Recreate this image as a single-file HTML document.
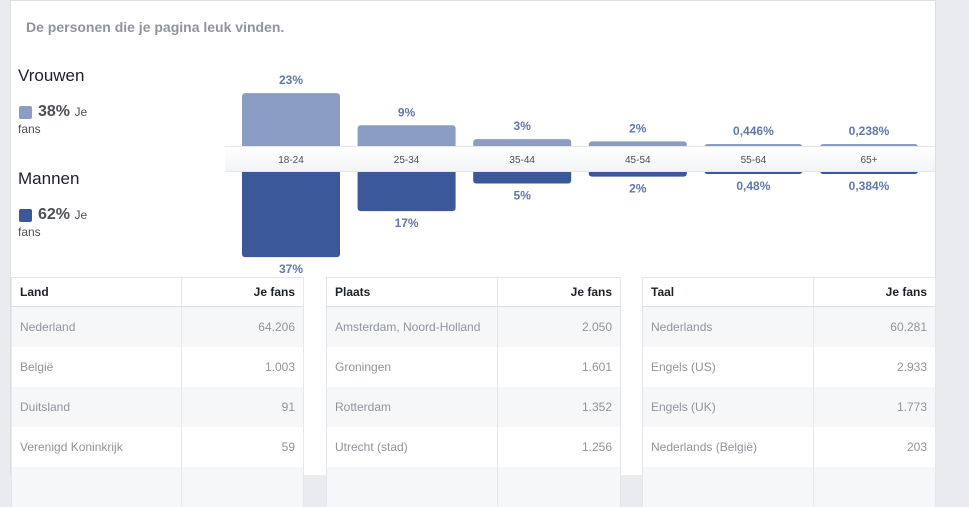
<!DOCTYPE html>
<html><head><meta charset="utf-8">
<style>
*{margin:0;padding:0;box-sizing:border-box}
body{width:969px;height:475px;overflow:hidden;background:#e9ebee;font-family:"Liberation Sans",Arial,sans-serif;position:relative}
#card{position:absolute;left:10px;top:0;width:926px;height:475px;background:#fff;border-left:1px solid #dddfe2;border-right:1px solid #dddfe2;border-top:1px solid #dddfe2}
.abs{position:absolute}
#title{left:26px;top:19px;font-size:14px;font-weight:bold;color:#90949c}
.gl{left:18px;font-size:17px;color:#1d2129}
.sw{width:13px;height:13px;border-radius:2px;left:19px}
.pct{left:38px;font-size:16px;font-weight:bold;color:#4b4f56}
.pct span{font-size:12px;font-weight:normal;color:#4b4f56}
.fans{left:18px;font-size:12px;color:#4b4f56}
#band{left:225px;top:146px;width:710px;height:26px;background:linear-gradient(#fff,#f3f4f6);border-top:1px solid #e5e6e9;border-bottom:1px solid #e5e6e9}
.tbl{position:absolute;top:277px;border-collapse:collapse;font-size:12px}
.tbl td,.tbl th{height:40px;padding:0 8px;border-left:1px solid #e5e6e9;border-right:1px solid #e5e6e9}
.tbl th{height:29px;font-weight:bold;color:#1d2129;text-align:left;border-top:1px solid #e5e6e9;border-bottom:1px solid #dddfe2;background:#fff}
.tbl td{color:#90949c}
.tbl .r{text-align:right}
.tbl tr.g td{background:#f6f7f9}
</style></head><body>
<div id="card"></div>
<div class="abs" id="title">De personen die je pagina leuk vinden.</div>
<div class="abs gl" style="top:66px">Vrouwen</div>
<div class="abs sw" style="top:106px;background:#8b9dc3"></div>
<div class="abs pct" style="top:103px">38% <span>Je</span></div>
<div class="abs fans" style="top:122px">fans</div>
<div class="abs gl" style="top:169px">Mannen</div>
<div class="abs sw" style="top:209px;background:#3b5998"></div>
<div class="abs pct" style="top:206px">62% <span>Je</span></div>
<div class="abs fans" style="top:225px">fans</div>
<svg class="abs" style="left:0;top:0" width="969" height="280" id="chart"></svg>
<div class="abs" id="band"></div>
<svg class="abs" style="left:0;top:0" width="969" height="280" id="labels"></svg>

<table class="tbl" style="left:11px;width:293px">
<tr><th style="width:170px">Land</th><th class="r" style="text-align:right">Je fans</th></tr>
<tr class="g"><td>Nederland</td><td class="r">64.206</td></tr>
<tr><td>België</td><td class="r">1.003</td></tr>
<tr class="g"><td>Duitsland</td><td class="r">91</td></tr>
<tr><td>Verenigd Koninkrijk</td><td class="r">59</td></tr>
<tr class="g"><td></td><td></td></tr>
</table>
<table class="tbl" style="left:326px;width:295px">
<tr><th style="width:171px">Plaats</th><th style="text-align:right">Je fans</th></tr>
<tr class="g"><td>Amsterdam, Noord-Holland</td><td class="r">2.050</td></tr>
<tr><td>Groningen</td><td class="r">1.601</td></tr>
<tr class="g"><td>Rotterdam</td><td class="r">1.352</td></tr>
<tr><td>Utrecht (stad)</td><td class="r">1.256</td></tr>
<tr class="g"><td></td><td></td></tr>
</table>
<table class="tbl" style="left:642px;width:294px">
<tr><th style="width:171px">Taal</th><th style="text-align:right">Je fans</th></tr>
<tr class="g"><td>Nederlands</td><td class="r">60.281</td></tr>
<tr><td>Engels (US)</td><td class="r">2.933</td></tr>
<tr class="g"><td>Engels (UK)</td><td class="r">1.773</td></tr>
<tr><td>Nederlands (België)</td><td class="r">203</td></tr>
<tr class="g"><td></td><td></td></tr>
</table>

<script>
const ageGroups=["18-24","25-34","35-44","45-54","55-64","65+"];
const women=[23,9,3,2,0.446,0.238];
const men=[37,17,5,2,0.48,0.384];
const womenLabels=["23%","9%","3%","2%","0,446%","0,238%"];
const menLabels=["37%","17%","5%","2%","0,48%","0,384%"];
const NS="http://www.w3.org/2000/svg";
const svg=document.getElementById('chart'), lab=document.getElementById('labels');
const x0=242, step=115.6, bw=98, bandTop=146, bandBot=172, k=2.3;
const xPos=i=>x0+i*step;
const h=v=>Math.max(2,v*k);
function mk(p,tag,a){const e=document.createElementNS(NS,tag);for(const n in a)e.setAttribute(n,a[n]);p.appendChild(e);return e;}
ageGroups.forEach((g,i)=>{
  const x=xPos(i), hw=h(women[i]), hm=h(men[i]);
  const fb=mk(svg,'rect',{x:x,y:bandTop-hw,width:bw,height:hw+6,rx:3,fill:'#8b9dc3'});
  
  
  const mb=mk(svg,'rect',{x:x,y:bandBot-6,width:bw,height:hm+6,rx:3,fill:'#3b5998'});
  
  
  const t1=mk(svg,'text',{x:x+bw/2,y:bandTop-hw-9,'text-anchor':'middle','font-size':12,'font-weight':'bold',fill:'#6178a9','font-family':'Liberation Sans, sans-serif'});
  t1.textContent=womenLabels[i];
  
  
  const t2=mk(svg,'text',{x:x+bw/2,y:bandBot+hm+16,'text-anchor':'middle','font-size':12,'font-weight':'bold',fill:'#6178a9','font-family':'Liberation Sans, sans-serif'});
  t2.textContent=menLabels[i];
  
  
  const t3=mk(lab,'text',{x:x+bw/2,y:163,'text-anchor':'middle','font-size':10,fill:'#4b4f56','font-family':'Liberation Sans, sans-serif'});
  t3.textContent=g;
  
  
});
</script>
</body></html>
